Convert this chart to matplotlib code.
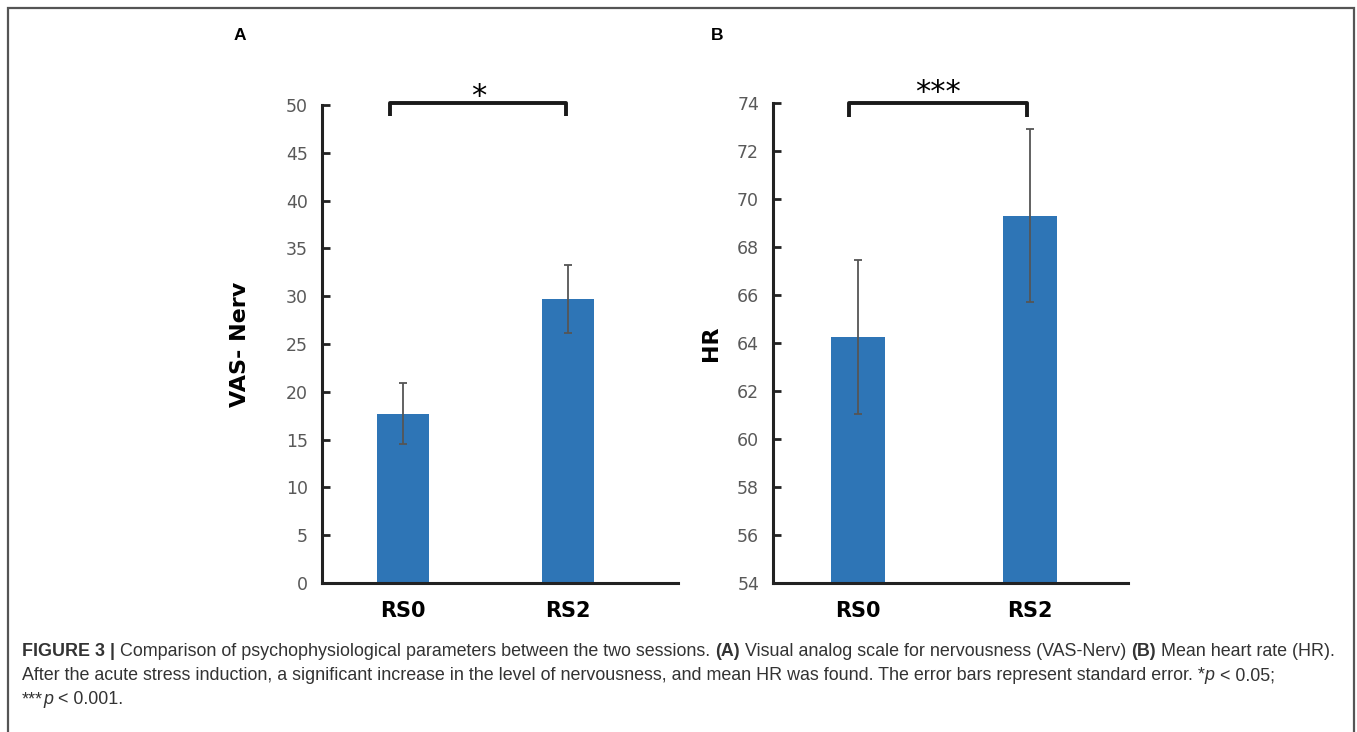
import matplotlib
matplotlib.use("Agg")
import matplotlib.pyplot as plt
from matplotlib.patches import Rectangle

# data
sessions = ["RS0", "RS2"]
vas_mean = [17.7, 29.7]
vas_err = [3.2, 3.6]
hr_mean = [64.25, 69.3]
hr_err = [3.2, 3.6]

bar_color = "#2E75B6"
err_color = "#555555"
spine_color = "#222222"
tick_color = "#595959"

W, H = 1357, 732
fig = plt.figure(figsize=(W / 100, H / 100), dpi=100)


def px_box(l, r, b, t):
    return [l / W, 1 - b / H, (r - l) / W, (b - t) / H]


def style_axes(ax, ylim, yticks, ylabel, xlim, label_x):
    ax.set_xlim(*xlim)
    ax.set_ylim(*ylim)
    ax.set_yticks(yticks)
    ax.set_xticks(range(len(sessions)))
    ax.set_xticklabels(sessions, fontsize=15, fontweight="bold")
    for s in ["top", "right"]:
        ax.spines[s].set_visible(False)
    for s in ["left", "bottom"]:
        ax.spines[s].set_linewidth(2.2)
        ax.spines[s].set_color(spine_color)
    ax.tick_params(axis="y", direction="in", length=6, width=2, color=spine_color,
                   labelsize=12.5, labelcolor=tick_color, pad=10)
    ax.tick_params(axis="x", length=0, pad=13)
    ax.set_ylabel(ylabel, fontsize=16, fontweight="bold")
    ax.yaxis.set_label_coords(label_x, 0.5)


def bracket(ax, x0, x1, ytop, ybot, text, ty, fs):
    ax.plot([x0, x0, x1, x1], [ybot, ytop, ytop, ybot], color="#1a1a1a", lw=2.8,
            clip_on=False, solid_joinstyle="round", solid_capstyle="butt")
    ax.text((x0 + x1) / 2, ty, text, ha="center", va="center", fontsize=fs,
            clip_on=False)


# panel A
axA = fig.add_axes(px_box(322, 678, 583, 105))
axA.bar(range(2), vas_mean, width=0.31, color=bar_color)
axA.errorbar(range(2), vas_mean, yerr=vas_err, fmt="none", ecolor=err_color,
             elinewidth=1.3, capsize=2.8, capthick=1.3)
style_axes(axA, (0, 50), range(0, 51, 5), "VAS- Nerv", (-0.491, 1.667), -0.202)
bracket(axA, -0.076, 0.99, 50.2, 48.85, "*", 50.9, 22)

# panel B
axB = fig.add_axes(px_box(773, 1128, 583, 103))
axB.bar(range(2), hr_mean, width=0.31, color=bar_color)
axB.errorbar(range(2), hr_mean, yerr=hr_err, fmt="none", ecolor=err_color,
             elinewidth=1.3, capsize=2.8, capthick=1.3)
style_axes(axB, (54, 74), range(54, 75, 2), "HR", (-0.494, 1.570), -0.146)
bracket(axB, -0.05, 0.98, 74.0, 73.42, "***", 74.42, 22)

fig.text(240 / W, 1 - 35 / H, "A", fontsize=12.5, fontweight="bold",
         family="Liberation Sans", ha="center", va="center")
fig.text(717 / W, 1 - 35 / H, "B", fontsize=12.5, fontweight="bold",
         family="Liberation Sans", ha="center", va="center")

# frame around the figure
fig.patches.append(Rectangle((8 / W, -0.05), (1354 - 8) / W, 1.05 - 8 / H,
                             transform=fig.transFigure, fill=False,
                             edgecolor="#555555", lw=1.6))

# caption, built from runs of mixed weight
caption = [
    [("FIGURE 3 |", "bold", "normal"),
     (" Comparison of psychophysiological parameters between the two sessions. ", "normal", "normal"),
     ("(A)", "bold", "normal"),
     (" Visual analog scale for nervousness (VAS-Nerv) ", "normal", "normal"),
     ("(B)", "bold", "normal"),
     (" Mean heart rate (HR).", "normal", "normal")],
    [("After the acute stress induction, a significant increase in the level of nervousness, "
      "and mean HR was found. The error bars represent standard error. *", "normal", "normal"),
     ("p", "normal", "italic"),
     (" < 0.05;", "normal", "normal")],
    [("***", "normal", "normal"),
     ("p", "normal", "italic"),
     (" < 0.001.", "normal", "normal")],
]
line_y = [652, 676, 700]

fig.canvas.draw()
renderer = fig.canvas.get_renderer()
for runs, y in zip(caption, line_y):
    x = 22
    for s, w, st in runs:
        t = fig.text(x / W, 1 - y / H, s, fontsize=12.9, fontweight=w, style=st,
                     family="Liberation Sans", color="#333333", va="center", ha="left")
        bb = t.get_window_extent(renderer)
        x += bb.width

fig.savefig("out.png", dpi=100)
